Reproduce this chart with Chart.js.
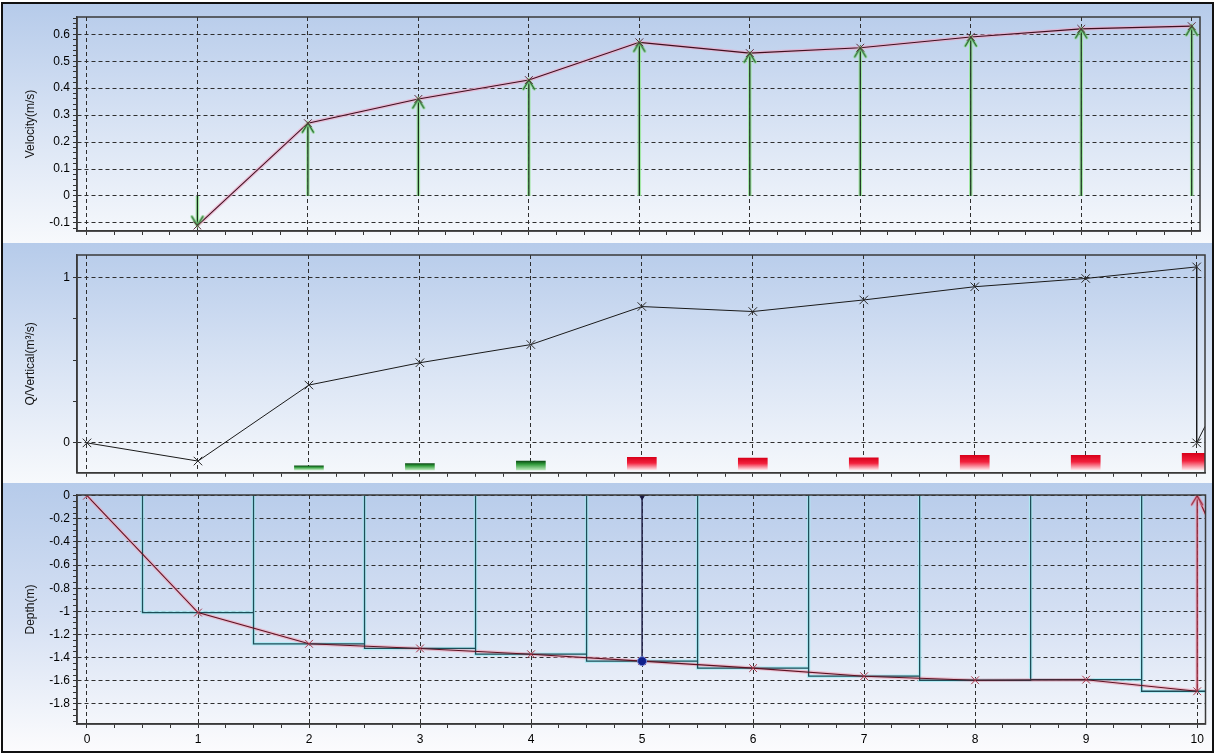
<!DOCTYPE html>
<html><head><meta charset="utf-8">
<script src="https://cdn.jsdelivr.net/npm/chart.js@4.4.1/dist/chart.umd.min.js"></script>
<style>
html,body{margin:0;padding:0;background:#fff;width:1215px;height:754px;overflow:hidden;}
.panel{position:absolute;left:3px;width:1209px;}
.panel canvas{display:block;}
#p1{top:4px;height:239px;background:linear-gradient(180deg,#b6cbea 0%,#d8e3f4 50%,#f7f9fc 100%);}
#p2{top:243px;height:240px;background:linear-gradient(180deg,#b6cbea 0%,#d8e3f4 50%,#f7f9fc 100%);}
#p3{top:483px;height:268px;background:linear-gradient(180deg,#b6cbea 0%,#d5e0f3 50%,#f8f9fc 95%,#fbfbfd 100%);}
#outer{position:absolute;left:1px;top:2px;width:1209px;height:747px;border:2px solid #111;}
</style></head>
<body>
<div class="panel" id="p1"><canvas id="c1" width="1209" height="239"></canvas></div>
<div class="panel" id="p2"><canvas id="c2" width="1209" height="240"></canvas></div>
<div class="panel" id="p3"><canvas id="c3" width="1209" height="268"></canvas></div>
<div id="outer"></div>
<script>
// ---------------- data ----------------
const stations   = [0, 1, 2, 3, 4, 5, 6, 7, 8, 9, 10];
const velocity   = [null, -0.11, 0.27, 0.36, 0.43, 0.57, 0.53, 0.55, 0.59, 0.62, 0.63];
const qVertical  = [0, -0.11, 0.35, 0.485, 0.595, 0.825, 0.795, 0.865, 0.945, 0.995, 1.065];
const qBarTop    = [null, null, -0.139, -0.125, -0.110, -0.087, -0.092, -0.090, -0.075, -0.075, -0.063];
const qBarBase   = -0.163;
const depth      = [0, -1.01, -1.28, -1.32, -1.37, -1.43, -1.49, -1.56, -1.595, -1.59, -1.69];
const qClosureEnd     = [10.075, 0.10];
const depthClosureEnd = [10.075, -0.16];
const selectedStation = 5;

const velMajorTicks   = [-0.1, 0, 0.1, 0.2, 0.3, 0.4, 0.5, 0.6];
const qMajorTicks     = [0, 1];
const depthMajorTicks = [-1.8, -1.6, -1.4, -1.2, -1, -0.8, -0.6, -0.4, -0.2, 0];
const xTickLabels     = ['0','1','2','3','4','5','6','7','8','9','10'];

const titles = ['Velocity(m/s)', 'Q/Vertical(m³/s)', 'Depth(m)'];

// ---------------- helpers ----------------
const X_MIN = -0.09, X_MAX = 10.075;
const GRID = '#2e2e2e';
Chart.defaults.font.family = "'Liberation Sans', Arial, sans-serif";
Chart.defaults.font.size = 12;
Chart.defaults.color = '#000';

function tickRange(lo, hi, step){
  const out = []; const n = Math.round((hi - lo) / step);
  for (let i = 0; i <= n; i++) out.push(+(lo + i * step).toFixed(6));
  return out;
}
function isOn(v, step){ return Math.abs(v / step - Math.round(v / step)) < 1e-6; }
function inList(v, list){ return list.some(m => Math.abs(m - v) < 1e-6); }

const xMinorTicks = tickRange(0, 10, 0.25);

function makeArrow(core, glow){
  const c = document.createElement('canvas'); c.width = 22; c.height = 22;
  const g = c.getContext('2d');
  g.lineCap = 'round';
  const path = () => { g.beginPath(); g.moveTo(5.5, 20); g.lineTo(11, 11); g.lineTo(16.5, 20); g.stroke(); };
  g.strokeStyle = glow; g.lineWidth = 3; path();
  g.strokeStyle = core; g.lineWidth = 1.2; path();
  return c;
}
const greenArrow = makeArrow('#1f5a28', 'rgba(140,225,140,0.85)');
const redArrow = makeArrow('#8a1a2c', 'rgba(240,160,185,0.8)');

function xScale(showLabels, height){
  return {
    type: 'linear', min: X_MIN, max: X_MAX, offset: false,
    afterBuildTicks: s => { s.ticks = xMinorTicks.map(v => ({value: v})); },
    afterFit: s => { s.height = height; },
    ticks: { display: showLabels, autoSkip: false, maxRotation: 0, minRotation: 0, padding: 4,
      callback: v => isOn(v, 1) ? xTickLabels[Math.round(v)] : '' },
    grid: { offset: false, color: c => (c.tick && isOn(c.tick.value, 1)) ? GRID : 'rgba(0,0,0,0)',
      tickColor: '#333', tickLength: 4, lineWidth: 1 },
    border: { display: true, color: '#3a3a3a', width: 1.5, dash: [4, 3] }
  };
}
function yScale(min, max, allTicks, majors, title){
  return {
    type: 'linear', min, max,
    afterBuildTicks: s => { s.ticks = allTicks.filter(v => v >= min - 1e-9 && v <= max + 1e-9).map(v => ({value: v})); },
    afterFit: s => { s.width = 74; },
    ticks: { autoSkip: false, padding: 3,
      callback: v => inList(v, majors) ? String(Math.round(v * 10) / 10) : '' },
    grid: { color: c => (c.tick && inList(c.tick.value, majors)) ? GRID : 'rgba(0,0,0,0)',
      tickColor: '#333', tickLength: 4, lineWidth: 1 },
    border: { display: true, color: '#3a3a3a', width: 1.5, dash: [4, 3] },
    title: { display: true, text: title, font: {size: 12}, color: '#111', padding: {top: 20, bottom: 0} }
  };
}
const framePlugin = {
  id: 'frame',
  afterDraw(chart){
    const {ctx, chartArea: a} = chart;
    ctx.save(); ctx.strokeStyle = '#3a3a3a'; ctx.lineWidth = 1.5;
    ctx.strokeRect(a.left, a.top, a.right - a.left, a.bottom - a.top);
    ctx.restore();
  }
};
function baseOptions(padTop, scales){
  return {
    responsive: false, animation: false, devicePixelRatio: 1,
    layout: { padding: { top: padTop, right: 5, left: 0, bottom: 0 } },
    plugins: { legend: {display: false}, tooltip: {enabled: false} },
    scales
  };
}

// ---------------- panel 1: velocity ----------------
const velPts = stations.map((x, i) => ({x, y: velocity[i]})).filter(p => p.y !== null);
const shaftPts = [];
velPts.forEach(p => { shaftPts.push({x: p.x, y: 0}, {x: p.x, y: p.y}, {x: p.x, y: null}); });

new Chart(document.getElementById('c1'), {
  type: 'line',
  data: { datasets: [
    { data: velPts, borderColor: '#6a2a3c', borderWidth: 1, pointStyle: 'crossRot', pointRadius: 5.5,
      pointBorderColor: '#5e2e3c', pointBorderWidth: 1, showLine: false, order: 0 },
    { data: velPts, pointStyle: greenArrow, pointRadius: 11,
      pointRotation: c => (c.raw && c.raw.y < 0) ? 180 : 0, showLine: false, order: 1 },
    { data: velPts, borderColor: '#3f0f1f', borderWidth: 1.1, pointRadius: 0, order: 2 },
    { data: velPts, borderColor: 'rgba(236,170,200,0.7)', borderWidth: 3.5, pointRadius: 0, order: 6 },
    { data: shaftPts, borderColor: '#142a18', borderWidth: 1.2, pointRadius: 0, spanGaps: false, order: 3 },
    { data: shaftPts, borderColor: 'rgba(150,230,150,0.85)', borderWidth: 3.5, pointRadius: 0, spanGaps: false, order: 7 }
  ]},
  options: baseOptions(13, {
    x: xScale(false, 4),
    y: yScale(-0.13, 0.664, tickRange(-0.12, 0.66, 0.02), velMajorTicks, titles[0])
  }),
  plugins: [framePlugin]
});

// ---------------- panel 2: Q per vertical ----------------
const qPts = stations.map((x, i) => ({x, y: qVertical[i]}));
const qClosure = [{x: 10, y: qVertical[10]}, {x: 10, y: 0}, {x: qClosureEnd[0], y: qClosureEnd[1]}];
const qBars = stations.map((x, i) => ({x, y: qBarTop[i] === null ? null : [qBarBase, qBarTop[i]]})).filter(b => b.y !== null);

function barGradient(c){
  const chart = c.chart; const raw = c.raw;
  const isGreen = raw && raw.x <= 4;
  if (!chart.chartArea || !raw) return isGreen ? '#2a8a34' : '#e8102a';
  const ys = chart.scales.y;
  const top = ys.getPixelForValue(raw.y[1]), bot = ys.getPixelForValue(raw.y[0]);
  const g = chart.ctx.createLinearGradient(0, top, 0, bot);
  if (isGreen){ g.addColorStop(0, '#0d4d16'); g.addColorStop(0.35, '#2f9a3a'); g.addColorStop(1, '#b5e4b5'); }
  else { g.addColorStop(0, '#d8001a'); g.addColorStop(0.45, '#f2203c'); g.addColorStop(1, '#ffe3e8'); }
  return g;
}

new Chart(document.getElementById('c2'), {
  type: 'line',
  data: { datasets: [
    { data: qPts, borderColor: '#1a1a1a', borderWidth: 1, pointStyle: 'crossRot', pointRadius: 6,
      pointBorderColor: '#2a2a2a', pointBorderWidth: 1, order: 1 },
    { data: qClosure, borderColor: '#1a1a1a', borderWidth: 1, pointStyle: 'crossRot',
      pointRadius: c => c.dataIndex === 1 ? 6 : 0, pointBorderColor: '#2a2a2a', order: 2 },
    { type: 'bar', data: qBars, backgroundColor: barGradient, barThickness: 29, borderWidth: 0, order: 5 }
  ]},
  options: baseOptions(12, {
    x: xScale(false, 4),
    y: yScale(-0.181, 1.137, tickRange(0, 1, 0.25), qMajorTicks, titles[1])
  }),
  plugins: [framePlugin]
});

// ---------------- panel 3: depth ----------------
const depthPts = stations.map((x, i) => ({x, y: depth[i]}));
const depthClosure = [{x: 10, y: depth[10]}, {x: 10, y: 0}, {x: depthClosureEnd[0], y: depthClosureEnd[1]}];
const stepPts = [];
for (let i = 1; i < stations.length; i++){
  const l = stations[i] - 0.5, r = stations[i] + 0.5;
  stepPts.push({x: l, y: 0}, {x: l, y: depth[i]}, {x: r, y: depth[i]});
}
const selPts = [{x: selectedStation, y: 0}, {x: selectedStation, y: depth[selectedStation]}];

new Chart(document.getElementById('c3'), {
  type: 'line',
  data: { datasets: [
    { data: selPts, borderColor: '#23234a', borderWidth: 1.5,
      pointStyle: c => c.dataIndex === 0 ? 'triangle' : 'circle',
      pointRotation: c => c.dataIndex === 0 ? 180 : 0,
      pointRadius: c => c.dataIndex === 0 ? 4 : 4.5,
      pointBackgroundColor: c => c.dataIndex === 0 ? '#1a1a40' : '#10208c',
      pointBorderColor: c => c.dataIndex === 0 ? '#1a1a40' : 'rgba(120,140,220,0.9)', pointBorderWidth: 1, order: 0 },
    { data: depthPts, borderColor: '#5e1222', borderWidth: 1.1, pointStyle: 'crossRot', pointRadius: 5.5,
      pointBorderColor: '#a83448', pointBorderWidth: 1, order: 1 },
    { data: depthPts, borderColor: 'rgba(240,165,185,0.65)', borderWidth: 3.5, pointRadius: 0, order: 8 },
    { data: depthClosure, borderColor: '#8a1a2c', borderWidth: 1.2,
      pointStyle: c => c.dataIndex === 1 ? redArrow : 'crossRot',
      pointRadius: c => c.dataIndex === 1 ? 11 : 0, order: 2 },
    { data: depthClosure, borderColor: 'rgba(240,165,185,0.65)', borderWidth: 3.5, pointRadius: 0, order: 9 },
    { data: stepPts, borderColor: '#1d4d58', borderWidth: 1.3, pointRadius: 0, order: 3 },
    { data: stepPts, borderColor: 'rgba(170,235,245,0.85)', borderWidth: 3.5, pointRadius: 0, order: 10 }
  ]},
  options: baseOptions(12, {
    x: xScale(true, 27),
    y: yScale(-1.973, 0.006, tickRange(-1.95, 0, 0.05), depthMajorTicks, titles[2])
  }),
  plugins: [framePlugin]
});
</script>
</body></html>
